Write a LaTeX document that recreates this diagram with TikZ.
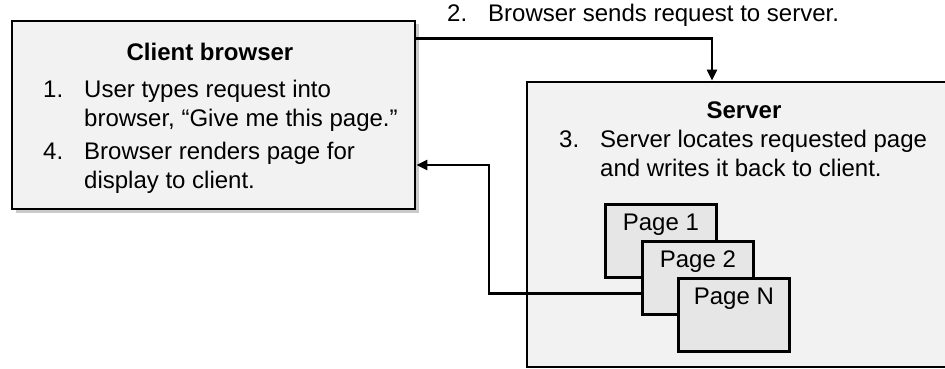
\documentclass[tikz,border=0pt]{standalone}
\usepackage{fontspec}
\setmainfont{Liberation Sans}
\usetikzlibrary{arrows.meta,shadows}
\definecolor{boxfill}{HTML}{F2F2F2}
\definecolor{pagefill}{HTML}{E6E6E6}
\tikzset{
  panel/.style={draw=black, line width=2.7pt, fill=boxfill, inner sep=0pt},
  clientpanel/.style={panel,
    general shadow={fill=black!35, shadow xshift=3.5pt, shadow yshift=-3.5pt, opacity=0.6}},
  sheet/.style={draw=black, line width=2.8pt, fill=pagefill, inner sep=0pt,
    minimum width=111pt, minimum height=73pt, anchor=north west},
  txt/.style={inner sep=0pt, anchor=base west, font=\fontsize{24}{28}\selectfont},
  head/.style={inner sep=0pt, anchor=base, font=\fontsize{24}{28}\selectfont\bfseries},
  link/.style={draw=black, line width=2.3pt, -{Triangle[length=11pt,width=10pt]}},
}
\begin{document}
\begin{tikzpicture}[x=1pt,y=-1pt]
  \useasboundingbox (0,0) rectangle (945,369);

  % client side
  \node[clientpanel, minimum width=403pt, minimum height=188pt] (client) at (213.5,115) {};
  \node[head] (clienttitle) at (210,60) {Client browser};
  \node[txt] (n1) at (43,97) {1.};
  \node[txt] (s1a) at (84,97) {User types request into};
  \node[txt] (s1b) at (84,126) {browser, “Give me this page.”};
  \node[txt] (n4) at (43,159) {4.};
  \node[txt] (s4a) at (84,159) {Browser renders page for};
  \node[txt] (s4b) at (84,188) {display to client.};

  % server side
  \node[panel, minimum width=440pt, minimum height=285pt] (server) at (747,224.5) {};
  \node[head] (servertitle) at (744,118) {Server};
  \node[txt] (n3) at (559,147.5) {3.};
  \node[txt] (s3a) at (600,147.5) {Server locates requested page};
  \node[txt] (s3b) at (600,176) {and writes it back to client.};

  % stacked pages
  \node[sheet] (page1) at (604,203) {};
  \node[txt, anchor=base] (page1txt) at ([yshift=-27pt]page1.north) {Page 1};
  \node[sheet] (page2) at (641,240) {};
  \node[txt, anchor=base] (page2txt) at ([yshift=-27pt]page2.north) {Page 2};
  \node[sheet] (pageN) at (677,277) {};
  \node[txt, anchor=base] (pageNtxt) at ([yshift=-27pt]pageN.north) {Page N};

  % step 2 label
  \node[txt] (n2) at (447,22) {2.};
  \node[txt] (s2) at (488,22) {Browser sends request to server.};

  % request and response
  \draw[link] ([yshift=-19pt]client.north east) -| ([xshift=-35pt]server.north);
  \draw[link] ([yshift=-15.5pt]page2.west) -- ++(-152,0) |- ([yshift=-50pt]client.east);
\end{tikzpicture}
\end{document}
